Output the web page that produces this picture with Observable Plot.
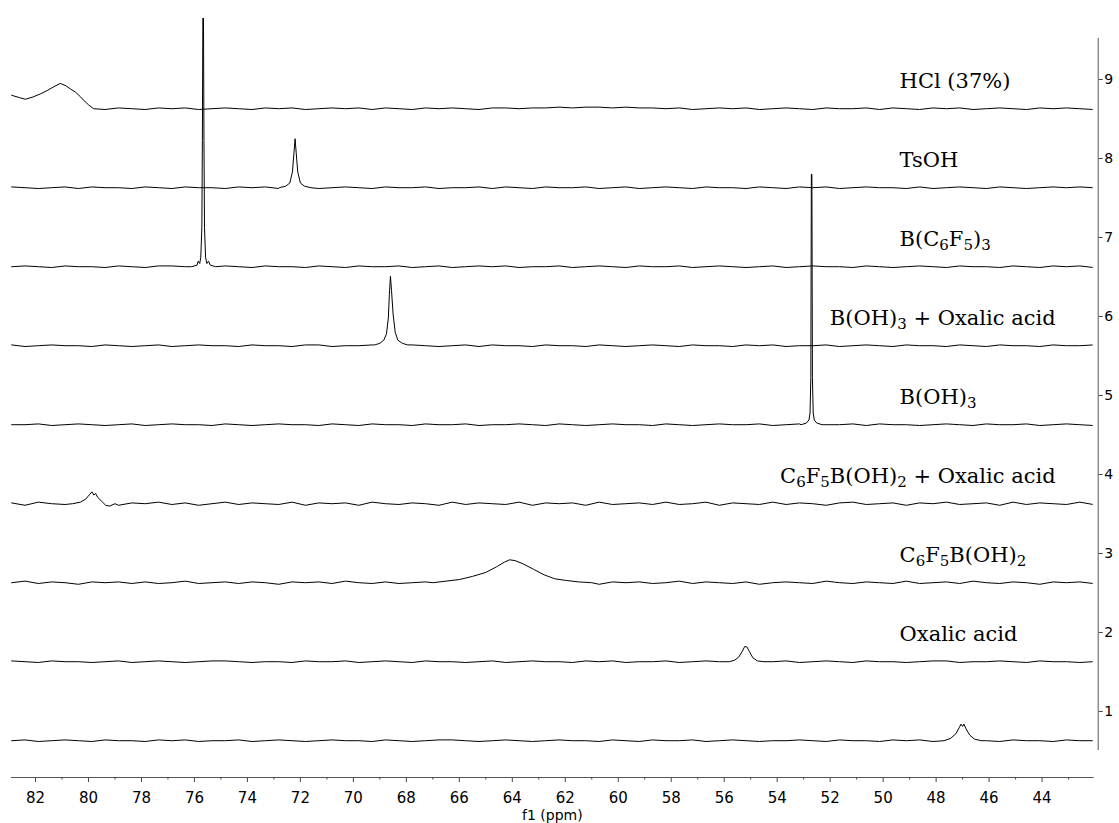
<!DOCTYPE html>
<html><head><meta charset="utf-8">
<script src="https://cdn.jsdelivr.net/npm/d3@7"></script>
<script src="https://cdn.jsdelivr.net/npm/@observablehq/plot@0.6"></script>
<style>html,body{margin:0;padding:0;background:#fff} svg{display:block}</style>
</head><body><div id="chart"></div>
<script>
// ---- axes ----
const xDomain = [82.906, 42.07];
const yDomain = [0.506, 9.772];
const yAxisExtent = [0.506, 9.52];
const rowBase = 0.63;
const xTicks = [82, 80, 78, 76, 74, 72, 70, 68, 66, 64, 62, 60, 58, 56, 54, 52, 50, 48, 46, 44];
const xMinorTicks = [81, 79, 77, 75, 73, 71, 69, 67, 65, 63, 61, 59, 57, 55, 53, 51, 49, 47, 45, 43];
const yTicks = [1, 2, 3, 4, 5, 6, 7, 8, 9];

// ---- series labels (row 0 = bottom) ----
const labels = ["", "Oxalic acid", "C₆F₅B(OH)₂", "C₆F₅B(OH)₂ + Oxalic acid", "B(OH)₃", "B(OH)₃ + Oxalic acid", "B(C₆F₅)₃", "TsOH", "HCl (37%)"];
const labelPpm = [null, 49.38, 49.38, 43.49, 49.38, 43.49, 49.38, 49.38, 49.38];
const labelAnchor = [null, "start", "start", "end", "start", "end", "start", "start", "start"];

// ---- baseline noise, read at 82 positions from 82.9 to 42.07 ppm ----
const noise0 = [0,.01,-.01,0,.01,0,-.01,.01,0,0, -.01,.01,0,.01,-.01,0,0,.01,-.01,0, .01,0,-.01,0,.01,0,0,-.01,.01,0, -.01,0,.01,.01,0,-.01,0,.01,0,-.01, 0,.01,0,0,-.01,.01,0,-.01,.01,0, 0,.01,-.01,0,.01,0,-.01,0,0,.01, 0,-.01,.01,0,0,-.01,.01,0,.01,-.01, 0,0,.01,0,-.01,.01,0,0,-.01,.01, 0,0];
const noise1 = [.01,0,-.01,.01,0,0,-.01,0,.01,-.01, 0,.01,0,-.01,0,.01,.01,0,-.01,0, 0,-.01,.01,0,0,.01,-.01,0,.01,0, -.01,.01,0,0,-.01,0,.01,-.01,0,.01, 0,0,-.01,.01,0,.01,-.01,0,0,.01, -.01,0,.01,0,-.01,.01,0,0,.01,-.01, 0,.01,0,-.01,.01,0,0,-.01,0,.01, .01,-.01,0,0,.01,0,-.01,.01,0,0, -.01,0];
const noise2 = [0,.02,-.01,.01,0,-.02,.01,0,.01,-.01, .01,-.01,0,.02,-.01,0,.01,-.01,.01,0, -.02,.01,0,.01,-.01,.02,0,-.01,.01,-.01, 0,.01,-.01,.02,0,-.01,.01,0,-.02,.01, .01,-.01,0,.01,-.02,.01,0,.01,-.01,0, .02,-.01,.01,0,-.01,.01,-.02,0,.01,0, -.01,.02,0,-.01,.01,0,-.01,.02,-.01,0, .01,-.01,.02,0,-.01,.01,0,-.02,.01,0, .01,-.01];
const noise3 = [.01,-.02,.02,0,-.01,.02,-.01,.01,-.02,.01, 0,.02,-.01,.01,-.02,0,.02,-.01,.01,0, -.01,.02,-.02,.01,0,.01,-.02,.02,0,-.01, .01,0,-.02,.02,-.01,.01,0,-.01,.02,-.02, .01,0,.01,-.02,.02,-.01,0,.01,-.01,.02, -.01,0,.02,-.02,.01,0,-.01,.02,-.01,.01, 0,-.02,.01,.02,-.01,0,.01,-.02,.01,0, .02,-.01,0,.01,-.02,.02,-.01,.01,0,-.01, .02,-.01];
const noise4 = [0,0,.01,-.01,0,.01,0,-.01,0,.01, -.01,0,.01,0,0,-.01,.01,0,-.01,0, .01,0,0,-.01,.01,0,-.01,.01,0,0, -.01,.01,0,0,.01,-.01,0,0,.01,0, -.01,.01,0,-.01,0,.01,0,0,-.01,.01, 0,-.01,0,.01,0,0,.01,-.01,0,.01, -.01,0,0,.01,-.01,.01,0,0,-.01,0, .01,0,-.01,.01,0,0,.01,-.01,0,.01, 0,-.01];
const noise5 = [.01,-.01,0,.01,0,0,-.01,.01,0,-.01, 0,.01,-.01,0,.01,0,0,-.01,.01,0, 0,-.01,.01,.01,-.01,0,0,.01,-.01,0, .01,0,-.01,0,.01,-.01,.01,0,0,-.01, .01,0,0,-.01,.01,0,-.01,0,.01,0, -.01,.01,0,0,-.01,.01,0,.01,-.01,0, 0,.01,-.01,0,.01,0,-.01,.01,0,0, -.01,.01,0,-.01,.01,0,0,-.01,.01,0, 0,.01];
const noise6 = [0,.01,0,-.01,.01,0,0,-.01,.01,0, -.01,.01,.01,0,-.01,0,.01,0,-.01,.01, 0,0,-.01,.01,0,-.01,.01,0,0,.01, -.01,0,.01,-.01,0,.01,0,.01,-.01,0, 0,.01,-.01,0,.01,0,-.01,.01,0,0, .01,-.01,0,.01,0,-.01,0,.01,-.01,0, .01,0,0,-.01,.01,0,-.01,0,.01,0, -.01,.01,0,0,-.01,.01,0,-.01,.01,0, .01,-.01];
const noise7 = [.01,0,-.01,0,.01,-.01,.01,0,0,-.01, .01,0,-.01,.01,0,0,-.01,.01,0,.01, -.01,0,.01,-.01,0,.01,0,-.01,.01,0, 0,.01,-.01,0,0,.01,-.01,.01,0,-.01, .01,0,0,.01,-.01,0,.01,-.01,0,.01, 0,-.01,.01,0,0,-.01,.01,0,-.01,.01, 0,.01,-.01,0,.01,0,0,-.01,.01,-.01, 0,.01,0,-.01,.01,0,-.01,0,.01,0, .01,0];
const noise8 = [0,0,0,0,0,0,0,-.01,.01,0, -.01,.01,0,.01,-.01,0,.01,0,-.01,.01, 0,.01,-.01,0,.01,0,.01,-.01,.01,0, -.01,.01,0,.01,0,-.01,.01,.01,0,.01, .01,.02,.01,.02,.02,.01,.02,.01,.01,0, .01,-.01,0,.01,0,.01,-.01,0,.01,0, -.01,.01,0,0,.01,-.01,.01,0,-.01,.01, 0,.01,-.01,0,.01,0,-.01,.01,0,.01, 0,-.01];

// ---- signals: [ppm, intensity above baseline] ----
const peak0 = [[47.7,0],[47.45,0.03],[47.25,0.09],[47.12,0.17],[47.06,0.21],[47.0,0.18],[46.95,0.21],[46.87,0.15],[46.73,0.07],[46.55,0.02],[46.3,0]];
const peak1 = [[55.8,0],[55.6,0.02],[55.45,0.06],[55.32,0.13],[55.23,0.19],[55.15,0.19],[55.05,0.13],[54.92,0.05],[54.75,0.01],[54.5,0]];
const peak2 = [[67.0,0],[66.5,0.02],[66.0,0.04],[65.5,0.08],[65.0,0.13],[64.6,0.2],[64.3,0.26],[64.1,0.29],[63.9,0.28],[63.6,0.24],[63.2,0.17],[62.8,0.1],[62.4,0.05],[62.0,0.03],[61.5,0.01],[61.0,0]];
const peak3 = [[80.6,0],[80.3,0.02],[80.1,0.06],[79.95,0.12],[79.87,0.15],[79.8,0.11],[79.73,0.13],[79.65,0.08],[79.5,0.03],[79.35,-0.02],[79.2,-0.03],[79.0,0]];
const peak4 = [[53.1,0],[52.9,0.02],[52.8,0.06],[52.76,0.15],[52.73,0.6],[52.71,3.17],[52.69,3.17],[52.67,0.6],[52.64,0.15],[52.6,0.06],[52.5,0.02],[52.3,0]];
const peak5 = [[69.2,0.01],[69.0,0.03],[68.85,0.07],[68.75,0.15],[68.68,0.35],[68.64,0.65],[68.6,0.88],[68.56,0.7],[68.5,0.4],[68.42,0.17],[68.32,0.07],[68.15,0.03],[67.95,0.01]];
const peak6 = [[76.1,0],[75.9,0.02],[75.86,0.07],[75.8,0.04],[75.76,0.12],[75.72,0.5],[75.70,1.6],[75.68,3.3],[75.66,3.3],[75.64,1.6],[75.62,0.5],[75.58,0.12],[75.53,0.04],[75.47,0.07],[75.4,0.02],[75.2,0]];
const peak7 = [[72.8,0],[72.55,0.02],[72.4,0.06],[72.3,0.2],[72.24,0.45],[72.2,0.62],[72.16,0.45],[72.1,0.2],[72.0,0.06],[71.85,0.02],[71.6,0]];
const peak8 = [[82.9,0.17],[82.6,0.14],[82.38,0.12],[82.08,0.15],[81.8,0.19],[81.56,0.23],[81.3,0.28],[81.06,0.32],[80.85,0.29],[80.68,0.25],[80.49,0.21],[80.3,0.15],[80.19,0.11],[80.0,0.05],[79.81,0]];

const noises = [noise0, noise1, noise2, noise3, noise4, noise5, noise6, noise7, noise8];
const peaks = [peak0, peak1, peak2, peak3, peak4, peak5, peak6, peak7, peak8];

// sample positions of the noise readings
const gridPpm = d3.range(82).map(i => xDomain[0] - 0.006 - i * (xDomain[0] - 0.006 - xDomain[1]) / 81);

const points = [];
peaks.forEach((peak, row) => {
  const lo = d3.min(peak, d => d[0]), hi = d3.max(peak, d => d[0]);
  const pts = gridPpm.map((p, i) => [p, noises[row][i]]).filter(([p]) => p < lo || p > hi).concat(peak);
  pts.sort((a, b) => b[0] - a[0]);
  for (const [ppm, v] of pts) points.push({series: row, ppm, value: row + rowBase + v});
});

const labelRows = labels.map((name, row) => ({name, row, ppm: labelPpm[row], anchor: labelAnchor[row], y: row + 1})).filter(d => d.name);

const chart = Plot.plot({
  width: 1119, height: 823,
  marginLeft: 11, marginRight: 26.3, marginTop: 18, marginBottom: 46,
  x: {domain: xDomain},
  y: {domain: yDomain, range: [750, 18]},
  style: {fontFamily: "DejaVu Sans", fontSize: "15px", color: "#000", background: "#fff"},
  marks: [
    Plot.frame({anchor: "bottom", stroke: "#555"}),
    Plot.axisX({ticks: xTicks, tickSize: 5, tickPadding: 10, label: null, stroke: "#444", fontSize: 15}),
    Plot.axisX({ticks: xMinorTicks, tickSize: 2.5, tickFormat: () => "", label: null, stroke: "#444"}),
    Plot.axisY({ticks: yTicks, anchor: "right", tickSize: 4, tickPadding: 2, dx: 5, fontSize: 14, label: null, tickFormat: d3.format("d"), stroke: "#444"}),
    Plot.ruleX([xDomain[1]], {y1: yAxisExtent[0], y2: yAxisExtent[1], dx: 5, stroke: "#555"}),
    Plot.line(points, {x: "ppm", y: "value", z: "series", stroke: "#000", strokeWidth: 1, clip: true}),
    Plot.text(labelRows.filter(d => d.anchor === "start"), {x: "ppm", y: "y", text: "name", textAnchor: "start", lineAnchor: "middle", dy: 2, fontSize: 21, fontFamily: "DejaVu Serif", className: "lbl"}),
    Plot.text(labelRows.filter(d => d.anchor === "end"), {x: "ppm", y: "y", text: "name", textAnchor: "end", lineAnchor: "middle", dy: 2, fontSize: 21, fontFamily: "DejaVu Serif", className: "lbl"}),
    Plot.text(["f1 (ppm)"], {frameAnchor: "bottom", dy: 38, lineAnchor: "middle", fontSize: 14})
  ]
});
document.getElementById("chart").append(chart);

// render subscript characters as lowered, smaller digits
const subMap = {"₀":"0","₁":"1","₂":"2","₃":"3","₄":"4","₅":"5","₆":"6","₇":"7","₈":"8","₉":"9"};
d3.select(chart).selectAll(".lbl text").each(function() {
  const t = this.textContent;
  const el = d3.select(this);
  const runs = [];
  for (const ch of t) {
    const s = ch in subMap;
    const c = s ? subMap[ch] : ch;
    if (runs.length && runs[runs.length - 1].sub === s) runs[runs.length - 1].t += c;
    else runs.push({sub: s, t: c});
  }
  el.text(null);
  let shifted = false;
  for (const r of runs) {
    const ts = el.append("tspan").text(r.t);
    if (r.sub) { ts.attr("font-size", 15).attr("dy", 4); shifted = true; }
    else if (shifted) { ts.attr("dy", -4); shifted = false; }
  }
});
</script>
</body></html>
